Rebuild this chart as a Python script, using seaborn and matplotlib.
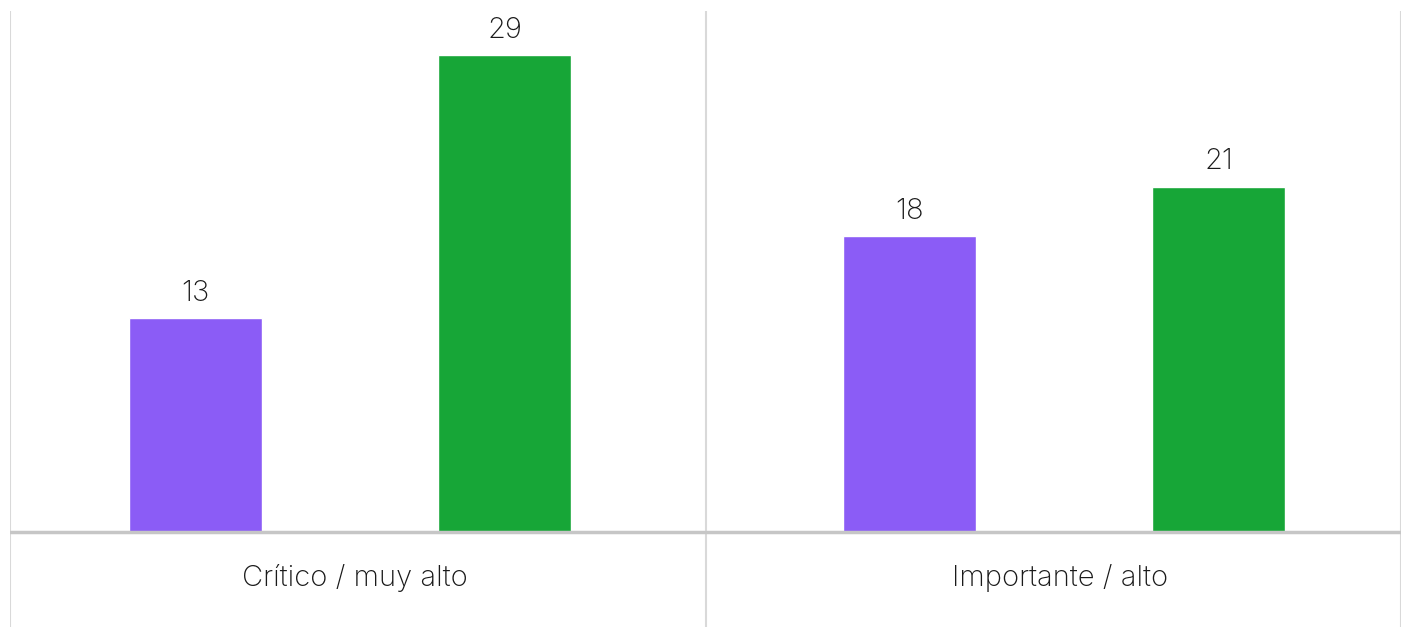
import matplotlib
matplotlib.use("Agg")
import matplotlib.pyplot as plt
import seaborn as sns
import pandas as pd

categories = ["Crítico / muy alto", "Importante / alto"]
series_names = ["Serie A", "Serie B"]
series_a = [13, 18]
series_b = [29, 21]
colors = ["#8B5CF6", "#17A637"]

sns.set_theme(style="white")
plt.rcParams["font.family"] = ["Inter", "DejaVu Sans"]

rows = []
for c, a, b in zip(categories, series_a, series_b):
    rows.append({"cat": c, "serie": series_names[0], "val": a})
    rows.append({"cat": c, "serie": series_names[1], "val": b})
df = pd.DataFrame(rows)

W, H = 1408, 627
fig = plt.figure(figsize=(W / 100, H / 100), dpi=100)
ax_left, ax_right, ax_top, ax_bot = 10, 1401, 11, 627
ax = fig.add_axes([ax_left / W, 1 - ax_bot / H, (ax_right - ax_left) / W, (ax_bot - ax_top) / H])

sns.barplot(data=df, x="cat", y="val", hue="serie", palette=colors,
            width=0.8655, gap=0.5696, ax=ax, legend=False, saturation=1)

# layout (pixel geometry of the reference)
c0_px, step_px = 350, 714
base_px = 532
top29_px = 55
ppu = (base_px - top29_px) / max(series_b)
ax.set_ylim(-(ax_bot - base_px) / ppu, (base_px - ax_top) / ppu)
ax.set_xlim((ax_left - c0_px) / step_px, (ax_right - c0_px) / step_px)

for cont in ax.containers:
    ax.bar_label(cont, fmt="%d", padding=8, fontsize=21, fontweight="light", color="#1a1a1a")

ax.axhline(0, color="#c6c6c6", lw=2.5, zorder=3)
for xp in [ax_left, 706, ax_right]:
    ax.axvline((xp - c0_px) / step_px, color="#d9d9d9", lw=1.5, zorder=0)

label_y = -(578 - base_px) / ppu
label_px = [355, 1060]
for c, lp in zip(categories, label_px):
    ax.text((lp - c0_px) / step_px, label_y, c, ha="center", va="center", fontsize=21,
            fontweight="light", color="#1a1a1a")

for s in ax.spines.values():
    s.set_visible(False)
ax.set_xticks([])
ax.set_yticks([])
ax.set_xlabel("")
ax.set_ylabel("")

fig.savefig("out.png", dpi=100)
